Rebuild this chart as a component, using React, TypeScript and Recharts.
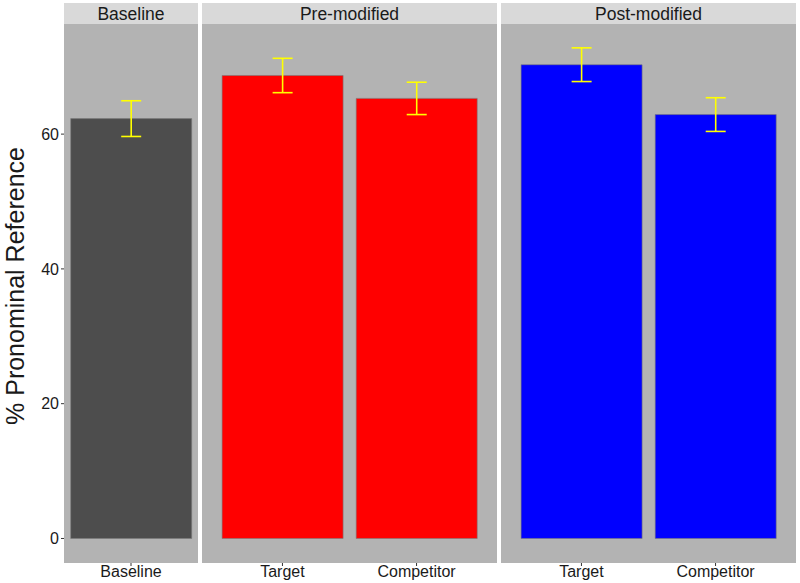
import { BarChart, Bar, XAxis, YAxis, CartesianGrid, ErrorBar } from "recharts";

const panelTitles = ["Baseline", "Pre-modified", "Post-modified"];

const baselineCats = ["Baseline"];
const baselineMeans = [62.3];
const baselineErr = [2.65];

const preCats = ["Target", "Competitor"];
const preMeans = [68.7, 65.3];
const preErr = [2.55, 2.4];

const postCats = ["Target", "Competitor"];
const postMeans = [70.3, 62.9];
const postErr = [2.5, 2.5];

const yTicks = [0, 20, 40, 60];
const Y_DOMAIN: [number, number] = [-3.64, 76.34];

const FONT = "'Liberation Sans', Arial, sans-serif";
const PANEL_BG = "#B3B3B3";
const STRIP_BG = "#D9D9D9";

const build = (cats: string[], means: number[], errs: number[]) =>
  cats.map((c, i) => ({ name: c, value: means[i], err: errs[i] }));

interface PanelProps {
  left: number;
  width: number;
  data: { name: string; value: number; err: number }[];
  fill: string;
  showY?: boolean;
  pad: number;
}

const Panel = ({ left, width, data, fill, showY, pad }: PanelProps) => {
  const yW = showY ? 64 : 0;
  return (
    <div style={{ position: "absolute", left: left - yW, top: 24 }}>
      <BarChart
        width={width + yW}
        height={559}
        data={data}
        margin={{ top: 0, right: 0, left: 0, bottom: 0 }}
        barCategoryGap="5%"
      >
        <CartesianGrid fill={PANEL_BG} horizontal={false} vertical={false} />
        <XAxis
          dataKey="name"
          height={20}
          padding={{ left: pad, right: pad }}
          axisLine={false}
          tickSize={3}
          tickMargin={0}
          tickLine={{ stroke: "#333333" }}
          tick={{ fontSize: 16, fill: "#1A1A1A", fontFamily: FONT }}
        />
        <YAxis
          hide={!showY}
          width={yW}
          domain={Y_DOMAIN}
          ticks={yTicks}
          allowDataOverflow
          axisLine={false}
          tickSize={3}
          tickMargin={2}
          tickLine={{ stroke: "#333333" }}
          tick={{ fontSize: 16, fill: "#1A1A1A", fontFamily: FONT }}
        />
        <Bar dataKey="value" fill={fill} stroke="#7a7a7a" strokeWidth={0.6} isAnimationActive={false}>
          <ErrorBar dataKey="err" width={10} stroke="#FFFF00" strokeWidth={1.6} direction="y" />
        </Bar>
      </BarChart>
    </div>
  );
};

const Strip = ({ left, width, title }: { left: number; width: number; title: string }) => (
  <div
    style={{
      position: "absolute",
      left,
      top: 3,
      width,
      height: 21,
      background: STRIP_BG,
      color: "#1A1A1A",
      fontSize: 17.5,
      lineHeight: "22px",
      textAlign: "center",
      fontFamily: FONT,
    }}
  >
    {title}
  </div>
);

export default function App() {
  return (
    <div
      style={{
        position: "absolute",
        left: 0,
        top: 0,
        width: 800,
        height: 583,
        background: "#FFFFFF",
        fontFamily: FONT,
        overflow: "hidden",
      }}
    >
      <Strip left={64} width={134} title={panelTitles[0]} />
      <Strip left={202} width={295} title={panelTitles[1]} />
      <Strip left={501} width={295} title={panelTitles[2]} />
      <Panel left={64} width={134} data={build(baselineCats, baselineMeans, baselineErr)} fill="#4D4D4D" showY pad={0} />
      <Panel left={202} width={295} data={build(preCats, preMeans, preErr)} fill="#FF0000" pad={13.4} />
      <Panel left={501} width={295} data={build(postCats, postMeans, postErr)} fill="#0000FF" pad={13.4} />
      <div
        style={{
          position: "absolute",
          left: 15,
          top: 286,
          transform: "translate(-50%, -50%) rotate(-90deg)",
          whiteSpace: "nowrap",
          fontSize: 25,
          color: "#1A1A1A",
        }}
      >
        % Pronominal Reference
      </div>
    </div>
  );
}
